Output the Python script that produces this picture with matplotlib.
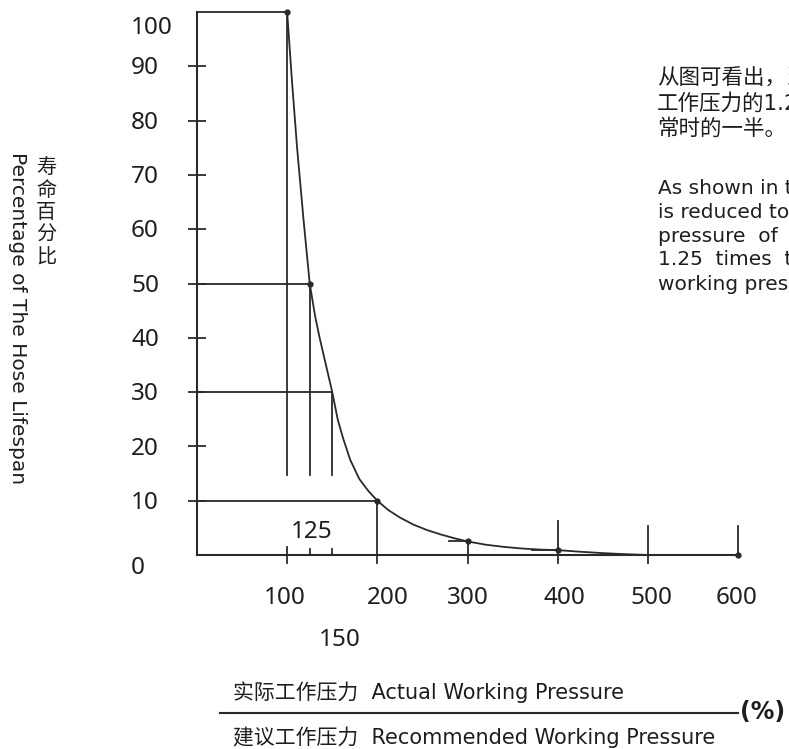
import matplotlib.pyplot as plt

# curve: pressure ratio (%) vs lifespan (%)
pressure_ratio = [100, 105, 111, 118, 125, 131, 136, 143, 150, 156, 162, 170, 180, 190, 200,
                  212, 225, 240, 255, 270, 285, 300, 320, 340, 360, 380, 400, 425, 450, 475, 500, 600]
lifespan = [100, 88, 75, 62, 50, 44, 40, 35, 30, 25, 21.5, 17.5, 14, 11.8, 10,
            8.3, 6.9, 5.6, 4.6, 3.8, 3.1, 2.5, 1.9, 1.5, 1.2, 1.0, 0.9, 0.6, 0.35, 0.15, 0, 0]

# highlighted points on the curve
dot_x = [100, 125, 200, 300, 400, 600]
dot_y = [100, 50, 10, 2.5, 0.9, 0]

# guide lines from the y axis to the curve
guide_x = [100, 125, 150, 200]
guide_y = [100, 50, 30, 10]

# short vertical markers on the right part
mark_x = [300, 400, 500, 600]
mark_top = [2.5, 6.3, 5.3, 5.3]

y_ticks = [10, 20, 30, 40, 50, 60, 70, 80, 90]
y_labels = ["0", "10", "20", "30", "40", "50", "60", "70", "80", "90", "100"]
x_labels = ["100", "125", "150", "200", "300", "400", "500", "600"]

zh_note = ["从图可看出，当实际工作压力是建议",
           "工作压力的1.25倍时，软管寿命降为正",
           "常时的一半。"]
en_note = ["As shown in the figure, the lifespan",
           "is reduced to half when the working",
           "pressure  of  the  hose  reaches",
           "1.25  times  the  recommended",
           "working pressure."]

LINE = "#2a2a2a"
TEXT = "#1e1e1e"
CJK = ["DejaVu Sans", "Noto Sans CJK SC"]

W, H = 789, 749
X0, Y0 = 197, 555          # pixel position of the origin
SX, SY = 541 / 600, 5.43   # pixels per data unit

fig = plt.figure(figsize=(W / 100, H / 100), dpi=100)
ax = fig.add_axes([0, 0, 1, 1])
ax.set_xlim(-X0 / SX, (W - X0) / SX)
ax.set_ylim(-(H - Y0) / SY, Y0 / SY)
ax.patch.set_visible(False)


def to_data(xp, yp):
    return (xp - X0) / SX, (Y0 - yp) / SY


# axes
for side in ["top", "right"]:
    ax.spines[side].set_visible(False)
ax.spines["left"].set_position(("data", 0))
ax.spines["bottom"].set_position(("data", 0))
ax.spines["left"].set_bounds(0, 100)
ax.spines["bottom"].set_bounds(0, 600)
for side in ["left", "bottom"]:
    ax.spines[side].set_color(LINE)
    ax.spines[side].set_linewidth(1.5)
ax.set_xticks([])
ax.set_yticks(y_ticks)
ax.set_yticklabels([])
ax.tick_params(axis="y", direction="inout", length=13, width=1.3, color=LINE)

# curve and dots
ax.plot(pressure_ratio, lifespan, color=LINE, lw=1.3, clip_on=False)
ax.plot(dot_x, dot_y, "o", color=LINE, ms=3.5, clip_on=False)

# guide lines
low = to_data(0, 475)[1]
for gx, gy in zip(guide_x, guide_y):
    ax.plot([0, gx], [gy, gy], color=LINE, lw=1.3)
    bottom = -1.5 if gx == 200 else low
    ax.plot([gx, gx], [bottom, gy], color=LINE, lw=1.3)

for mx, top in zip(mark_x, mark_top):
    ax.plot([mx, mx], [0 if mx == 600 else -1.5, top], color=LINE, lw=1.3, clip_on=False)
ax.plot([280, 300], [2.5, 2.5], color=LINE, lw=1.3)
ax.plot([371, 400], [0.9, 0.9], color=LINE, lw=1.3)

# bottom ticks at 100, 125, 150
ax.plot([100, 100], [-1.5, 1.5], color=LINE, lw=1.3)
for tx in [125, 150]:
    ax.plot([tx, tx], [0, 1.1], color=LINE, lw=1.3)

# y tick labels
ylab_x = to_data(131, 0)[0]
for lab in y_labels:
    v = float(lab)
    yy = v - 3 if v == 100 else (v - 2.4 if v == 0 else v - 0.4)
    ax.text(ylab_x, yy, lab, ha="left", va="center", fontsize=17.5,
            family="Noto Sans", color=TEXT)

# x tick labels (placement follows the original drawing)
xlab_px = {"100": (285, 598), "125": (312, 532), "150": (340, 640), "200": (388, 598),
           "300": (468, 598), "400": (564, 598), "500": (651, 598), "600": (737, 598)}
for lab in x_labels:
    tx, ty = to_data(*xlab_px[lab])
    ax.text(tx, ty, lab, ha="center", va="center", fontsize=17.5,
            family="Noto Sans", color=TEXT)

# y axis titles
fig.text(46 / W, 1 - 157 / H, "寿\n命\n百\n分\n比", ha="center", va="top",
         fontsize=14.5, family="Noto Sans CJK SC", linespacing=1.1, color=TEXT)
fig.text(17 / W, 1 - 318 / H, "Percentage of The Hose Lifespan", rotation=270,
         ha="center", va="center", fontsize=14.5, family="DejaVu Sans", color=TEXT)

# note on the right
for i, line in enumerate(zh_note):
    fig.text(657 / W, 1 - (78 + 25 * i) / H, line, ha="left", va="center",
             fontsize=15.5, family=CJK, color=TEXT)
for i, line in enumerate(en_note):
    fig.text(658 / W, 1 - (188 + 24 * i) / H, line, ha="left", va="center",
             fontsize=14.5, family="DejaVu Sans", color=TEXT)

# x axis title as a fraction
fig.text(233 / W, 1 - 692 / H, "实际工作压力  Actual Working Pressure", ha="left",
         va="center", fontsize=15, family=CJK, color=TEXT)
fig.text(233 / W, 1 - 737 / H, "建议工作压力  Recommended Working Pressure", ha="left",
         va="center", fontsize=15, family=CJK, color=TEXT)
fig.add_artist(plt.Line2D([220 / W, 738 / W], [1 - 713 / H, 1 - 713 / H],
                          color=LINE, lw=1.5))
fig.text(740 / W, 1 - 712 / H, "(%)", ha="left", va="center", fontsize=17,
         family="DejaVu Sans", fontweight="bold", color=TEXT)

fig.savefig("out.png", dpi=100)
